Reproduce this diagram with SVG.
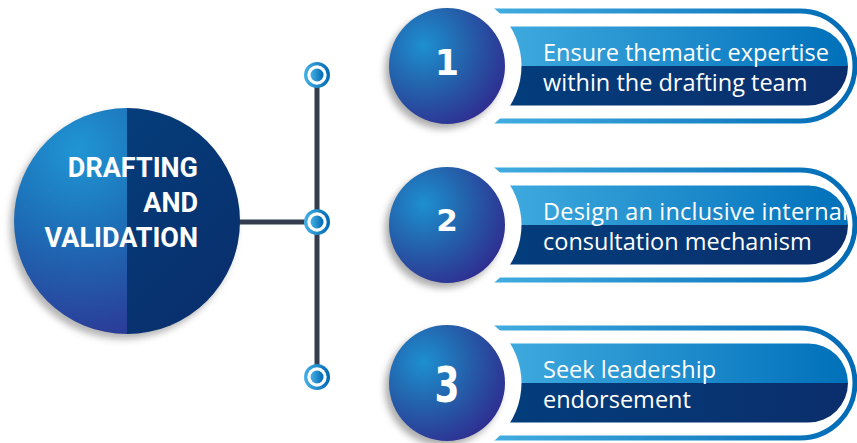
<svg xmlns="http://www.w3.org/2000/svg" width="857" height="443" viewBox="0 0 857 443">
  <style>
    .conn { stroke: #343d4d; stroke-width: 5; fill: none; }
    .title { font-family: Roboto, "Liberation Sans", sans-serif; font-weight: 700; font-size: 27px; fill: #ffffff; text-anchor: end; }
    .digit { font-family: "DejaVu Sans", sans-serif; font-weight: 700; fill: #ffffff; text-anchor: middle; }
    .label { font-family: "Open Sans", "Liberation Sans", sans-serif; font-size: 23.5px; fill: #ffffff; }
  </style>
  <defs>
    <!-- big hub sphere, left half -->
    <radialGradient id="hubLeft" gradientUnits="userSpaceOnUse" cx="78" cy="150" r="210">
      <stop offset="0" stop-color="#2096d4"/>
      <stop offset="0.4" stop-color="#1d6fb7"/>
      <stop offset="1" stop-color="#2e3192"/>
    </radialGradient>
    <linearGradient id="hubRight" x1="0" y1="0" x2="1" y2="1">
      <stop offset="0" stop-color="#02427f"/>
      <stop offset="1" stop-color="#0a2d6b"/>
    </linearGradient>
    <clipPath id="leftHalf"><rect x="0" y="100" width="127" height="250"/></clipPath>
    <clipPath id="rightHalf"><rect x="127" y="100" width="130" height="250"/></clipPath>

    <!-- numbered spheres -->
    <radialGradient id="ball" cx="0.3" cy="0.32" r="0.75">
      <stop offset="0" stop-color="#1d90d0"/>
      <stop offset="0.5" stop-color="#2461ab"/>
      <stop offset="1" stop-color="#2e3192"/>
    </radialGradient>

    <!-- junction dots -->
    <linearGradient id="dot" x1="0" y1="0" x2="1" y2="0">
      <stop offset="0" stop-color="#46b1e4"/>
      <stop offset="1" stop-color="#0068b3"/>
    </linearGradient>

    <!-- pill fills (step-local coordinates) -->
    <linearGradient id="ringGrad" gradientUnits="userSpaceOnUse" x1="495" y1="0" x2="857" y2="0">
      <stop offset="0" stop-color="#42ace0"/>
      <stop offset="1" stop-color="#006ab5"/>
    </linearGradient>
    <linearGradient id="pillTop" gradientUnits="userSpaceOnUse" x1="510" y1="0" x2="848" y2="0">
      <stop offset="0" stop-color="#3ea9de"/>
      <stop offset="1" stop-color="#0070ba"/>
    </linearGradient>
    <linearGradient id="pillBottom" gradientUnits="userSpaceOnUse" x1="510" y1="0" x2="848" y2="0">
      <stop offset="0" stop-color="#033d7c"/>
      <stop offset="1" stop-color="#0b2e6b"/>
    </linearGradient>
    <clipPath id="pillClip"><rect x="440" y="-39.5" width="408" height="79" rx="39.5"/></clipPath>

    <filter id="shadow" x="-30%" y="-30%" width="160%" height="160%">
      <feGaussianBlur stdDeviation="3.5"/>
    </filter>

    <g id="pill">
      <path d="M440 -55 H800 A55 55 0 0 1 800 55 H440" fill="none" stroke="url(#ringGrad)" stroke-width="5"/>
      <path d="M440 0 V-39.5 H808.5 A39.5 39.5 0 0 1 848 0 Z" fill="url(#pillTop)"/>
      <path d="M440 0 H848 A39.5 39.5 0 0 1 808.5 39.5 H440 Z" fill="url(#pillBottom)"/>
      <circle cx="447" cy="0" r="74.5" fill="#ffffff"/>
      <circle cx="443" cy="5" r="58" fill="#6b6b6b" opacity="0.55" filter="url(#shadow)"/>
      <circle cx="447" cy="0" r="58" fill="url(#ball)"/>
    </g>
  </defs>

  <!-- connectors -->
  <g id="connectors">
    <line class="conn" x1="238" y1="222" x2="317" y2="222"/>
    <line class="conn" x1="317" y1="75" x2="317" y2="377"/>
  </g>

  <!-- junction dots -->
  <g id="junctions">
    <g id="dot-1">
      <circle cx="317" cy="75" r="13" fill="url(#dot)"/>
      <circle cx="317" cy="75" r="9.7" fill="#ffffff"/>
      <circle cx="317" cy="75" r="6.5" fill="url(#dot)"/>
    </g>
    <g id="dot-2">
      <circle cx="317" cy="222" r="13" fill="url(#dot)"/>
      <circle cx="317" cy="222" r="9.7" fill="#ffffff"/>
      <circle cx="317" cy="222" r="6.5" fill="url(#dot)"/>
    </g>
    <g id="dot-3">
      <circle cx="317" cy="377" r="13" fill="url(#dot)"/>
      <circle cx="317" cy="377" r="9.7" fill="#ffffff"/>
      <circle cx="317" cy="377" r="6.5" fill="url(#dot)"/>
    </g>
  </g>

  <!-- hub -->
  <g id="hub">
    <circle cx="123" cy="226" r="113" fill="#6b6b6b" opacity="0.5" filter="url(#shadow)"/>
    <circle cx="127" cy="221" r="113" fill="url(#hubLeft)" clip-path="url(#leftHalf)"/>
    <circle cx="127" cy="221" r="113" fill="url(#hubRight)" clip-path="url(#rightHalf)"/>
    <text class="title" x="198" y="177">DRAFTING</text>
    <text class="title" x="198" y="212">AND</text>
    <text class="title" x="198" y="247">VALIDATION</text>
  </g>

  <!-- step 1 -->
  <g id="step-1" transform="translate(0,66)">
    <use href="#pill"/>
    <text class="digit" x="447" y="9" font-size="35">1</text>
    <g clip-path="url(#pillClip)">
      <text class="label" x="543" y="-5">Ensure thematic expertise</text>
      <text class="label" x="543" y="25">within the drafting team</text>
    </g>
  </g>

  <!-- step 2 -->
  <g id="step-2" transform="translate(0,225)">
    <use href="#pill"/>
    <text class="digit" x="447" y="6" font-size="31">2</text>
    <g clip-path="url(#pillClip)">
      <text class="label" x="543" y="-5" textLength="305" lengthAdjust="spacing">Design an inclusive internal</text>
      <text class="label" x="543" y="25">consultation mechanism</text>
    </g>
  </g>

  <!-- step 3 -->
  <g id="step-3" transform="translate(0,383)">
    <use href="#pill"/>
    <text class="digit" x="447" y="18.5" font-size="49" textLength="25" lengthAdjust="spacingAndGlyphs">3</text>
    <g clip-path="url(#pillClip)">
      <text class="label" x="543" y="-5">Seek leadership</text>
      <text class="label" x="543" y="25">endorsement</text>
    </g>
  </g>
</svg>
